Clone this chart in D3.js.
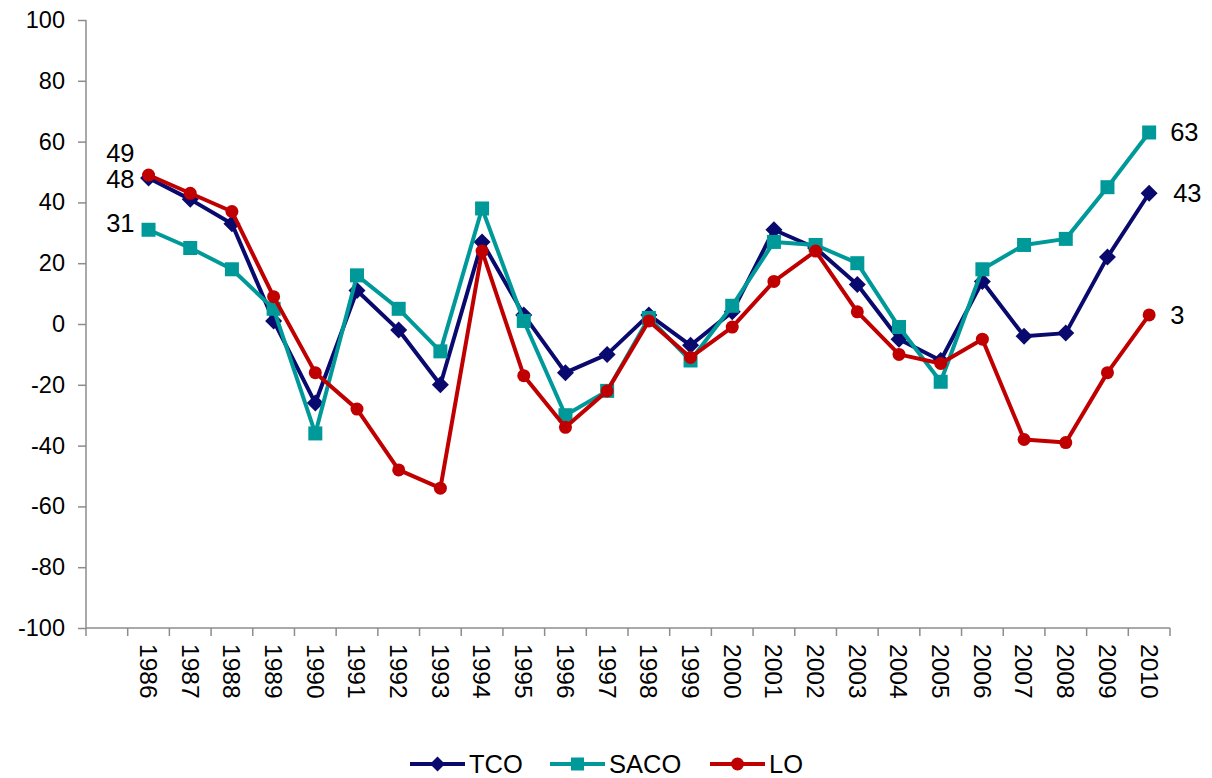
<!DOCTYPE html>
<html><head><meta charset="utf-8">
<script src="https://cdn.jsdelivr.net/npm/d3@7"></script>
<style>body{margin:0;background:#fff}svg{display:block}text{font-family:"Liberation Sans",Arial,sans-serif}</style>
</head><body>
<svg id="c" width="1212" height="778"></svg>
<script>
const years = ["","1986","1987","1988","1989","1990","1991","1992","1993","1994","1995","1996","1997","1998","1999","2000","2001","2002","2003","2004","2005","2006","2007","2008","2009","2010"];
const dataYears = years.slice(1);
const tco  = [48,41,33,1,-26,11,-2,-20,27,3,-16,-10,3,-7,4,31,25,13,-5,-12,14,-4,-3,22,43];
const saco = [31,25,18,5,-36,16,5,-9,38,1,-30,-22,2,-12,6,27,26,20,-1,-19,18,26,28,45,63];
const lo   = [49,43,37,9,-16,-28,-48,-54,24,-17,-34,-22,1,-11,-1,14,24,4,-10,-13,-5,-38,-39,-16,3];
const yTicks = [-100,-80,-60,-40,-20,0,20,40,60,80,100];
const seriesNames = ["TCO","SACO","LO"];

(function(){
const svg = d3.select("#c");
const mLeft = 86, mRight = 1170, mTop = 20, mBottom = 628;
const x = d3.scaleBand().domain(years).range([mLeft, mRight]);
const y = d3.scaleLinear().domain([-100,100]).range([mBottom, mTop]);
const axisColor = "#8c8c8c";

// Y axis
const ya = svg.append("g").attr("transform",`translate(${mLeft},0)`)
  .call(d3.axisLeft(y).tickValues(yTicks).tickSize(8).tickPadding(13).tickFormat(d=>d));
ya.selectAll("path,line").attr("stroke",axisColor).attr("stroke-width",1.5);
ya.select("path").attr("d",`M0,${mTop}V${mBottom}`);
ya.selectAll("text").attr("font-size",23.5).attr("fill","#000").attr("font-family","Liberation Sans, Arial, sans-serif");

// X axis
const xa = svg.append("g").attr("transform",`translate(0,${mBottom})`);
xa.append("line").attr("x1",mLeft).attr("x2",mRight).attr("stroke",axisColor).attr("stroke-width",1.5);
const tickPos = years.map(d=>x(d)).concat([mRight]);
xa.selectAll("line.t").data(tickPos).join("line").attr("class","t")
  .attr("x1",d=>d).attr("x2",d=>d).attr("y1",0).attr("y2",8)
  .attr("stroke",axisColor).attr("stroke-width",1.5);
xa.selectAll("text").data(dataYears).join("text")
  .attr("transform",d=>`translate(${x(d)+x.bandwidth()/2},${16}) rotate(90)`)
  .attr("dy","0.35em").attr("font-size",24.5).attr("fill","#000").text(d=>d);

const cx = d => x(d)+x.bandwidth()/2;
const line = d3.line().x((d,i)=>cx(dataYears[i])).y(d=>y(d));

const series = [
  {name:seriesNames[0], vals:tco, color:"#0a0a6e", shape:"diamond"},
  {name:seriesNames[1], vals:saco, color:"#009999", shape:"square"},
  {name:seriesNames[2], vals:lo, color:"#c00000", shape:"circle"}
];
function marker(g, shape, color){
  if(shape==="diamond") g.append("path").attr("d","M0,-8.5L8.5,0L0,8.5L-8.5,0Z").attr("fill",color);
  else if(shape==="square") g.append("rect").attr("x",-7).attr("y",-7).attr("width",14).attr("height",14).attr("fill",color);
  else g.append("circle").attr("r",6.5).attr("fill",color);
}
series.forEach(s=>{
  svg.append("path").datum(s.vals).attr("d",line).attr("fill","none")
    .attr("stroke",s.color).attr("stroke-width",4).attr("stroke-linejoin","round");
  s.vals.forEach((v,i)=>{
    const g = svg.append("g").attr("transform",`translate(${cx(dataYears[i])},${y(v)})`);
    marker(g,s.shape,s.color);
  });
});

// Data labels
const lbl = (tx,ty,t,anchor)=>svg.append("text").attr("x",tx).attr("y",ty).attr("font-size",25.5)
  .attr("text-anchor",anchor).attr("dy","0.35em").attr("fill","#000").text(t);
const first = dataYears[0], last = dataYears[dataYears.length-1];
lbl(cx(first)-14, y(lo[0])-22, lo[0], "end");
lbl(cx(first)-14, y(tco[0])+1, tco[0], "end");
lbl(cx(first)-14, y(saco[0])-7, saco[0], "end");
lbl(cx(last)+21, y(saco[24]), saco[24], "start");
lbl(cx(last)+24, y(tco[24]), tco[24], "start");
lbl(cx(last)+21, y(lo[24]), lo[24], "start");

// Legend
const legX = [410, 550, 710];
series.forEach((s,i)=>{
  const g = svg.append("g").attr("transform",`translate(${legX[i]},764)`);
  g.append("line").attr("x1",0).attr("x2",55).attr("stroke",s.color).attr("stroke-width",4);
  const m = g.append("g").attr("transform","translate(27.5,0)");
  if(s.shape==="diamond") m.append("path").attr("d","M0,-7.5L7.5,0L0,7.5L-7.5,0Z").attr("fill",s.color);
  else if(s.shape==="square") m.append("rect").attr("x",-6.5).attr("y",-6.5).attr("width",13).attr("height",13).attr("fill",s.color);
  else m.append("circle").attr("r",6.5).attr("fill",s.color);
  g.append("text").attr("x",59).attr("dy","0.35em").attr("font-size",25.5).attr("fill","#000").text(s.name);
});
})();
</script>
</body></html>
